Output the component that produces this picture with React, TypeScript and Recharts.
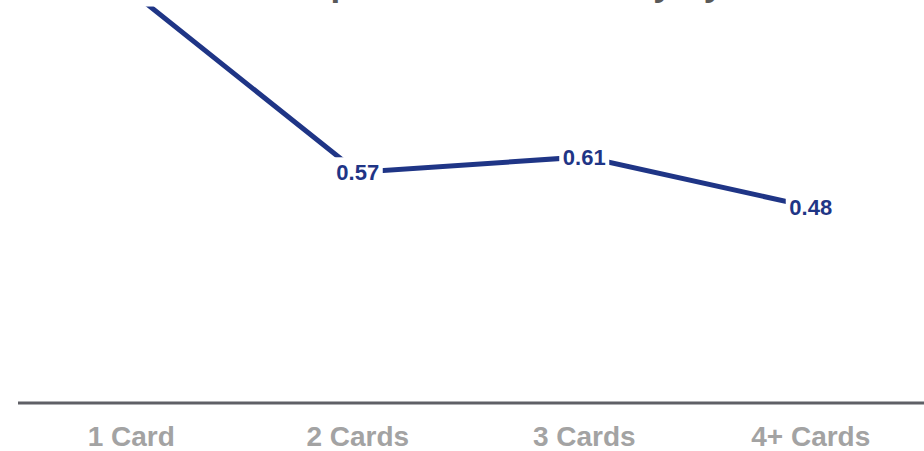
import React from "react";
import { LineChart, Line, XAxis, YAxis, LabelList } from "recharts";

const categories = ["1 Card", "2 Cards", "3 Cards", "4+ Cards"];
const ratios = [1.04, 0.57, 0.61, 0.48];
const titleLead = "Net Sales ";
const titleText = "Net Sales per Member Monthly by Cards Held";

const data = categories.map((name, i) => ({ name, ratio: ratios[i] }));

const NAVY = "#1f3586";
const SHIFT = 110; // chart is drawn taller and slid up, like the cropped original
const TITLE_FONT = "bold 35px 'Liberation Sans'";

// place the title so the stem of the "p" in "per" sits where the cropped original shows it
const titleLeft = (() => {
  try {
    const ctx = document.createElement("canvas").getContext("2d");
    if (!ctx) return 170;
    ctx.font = TITLE_FONT;
    const lead = ctx.measureText(titleLead).width;
    return 335 - lead - 4.5;
  } catch (e) {
    return 170;
  }
})();

const ValueTag = (props: any) => {
  const { x, y, value } = props;
  if (x == null || y == null) return null;
  const label = Number(value).toFixed(2);
  return (
    <g>
      <rect x={x - 25} y={y - 15} width={50} height={30} fill="#ffffff" />
      <text
        x={x}
        y={y}
        dy={8}
        textAnchor="middle"
        fill={NAVY}
        fontSize={22}
        fontWeight={700}
        fontFamily="'Liberation Sans', Arial, sans-serif"
      >
        {label}
      </text>
    </g>
  );
};

export default function App() {
  return (
    <div
      style={{
        position: "fixed",
        left: 0,
        top: 0,
        width: 924,
        height: 451,
        overflow: "hidden",
        background: "#ffffff",
        fontFamily: "'Liberation Sans', Arial, sans-serif",
      }}
    >
      <div style={{ position: "absolute", left: 0, top: -SHIFT }}>
        <LineChart
          width={924}
          height={573}
          data={data}
          margin={{ top: 40, right: 0, left: 18, bottom: 0 }}
        >
          <XAxis
            dataKey="name"
            scale="band"
            axisLine={{ stroke: "#5f6066", strokeWidth: 3 }}
            tickLine={false}
            tickMargin={17}
            height={60}
            tick={{
              fill: "#a3a3a3",
              fontSize: 28,
              fontWeight: 700,
              fontFamily: "'Liberation Sans', Arial, sans-serif",
            }}
          />
          <YAxis hide domain={[-0.03, 1.2]} />
          <Line
            type="linear"
            dataKey="ratio"
            stroke={NAVY}
            strokeWidth={5}
            dot={false}
            isAnimationActive={false}
          >
            <LabelList dataKey="ratio" content={<ValueTag />} />
          </Line>
        </LineChart>
      </div>
      <div
        style={{
          position: "absolute",
          left: titleLeft,
          top: -36,
          font: TITLE_FONT,
          lineHeight: "40px",
          color: "#595959",
          whiteSpace: "nowrap",
        }}
      >
        {titleText}
      </div>
    </div>
  );
}
